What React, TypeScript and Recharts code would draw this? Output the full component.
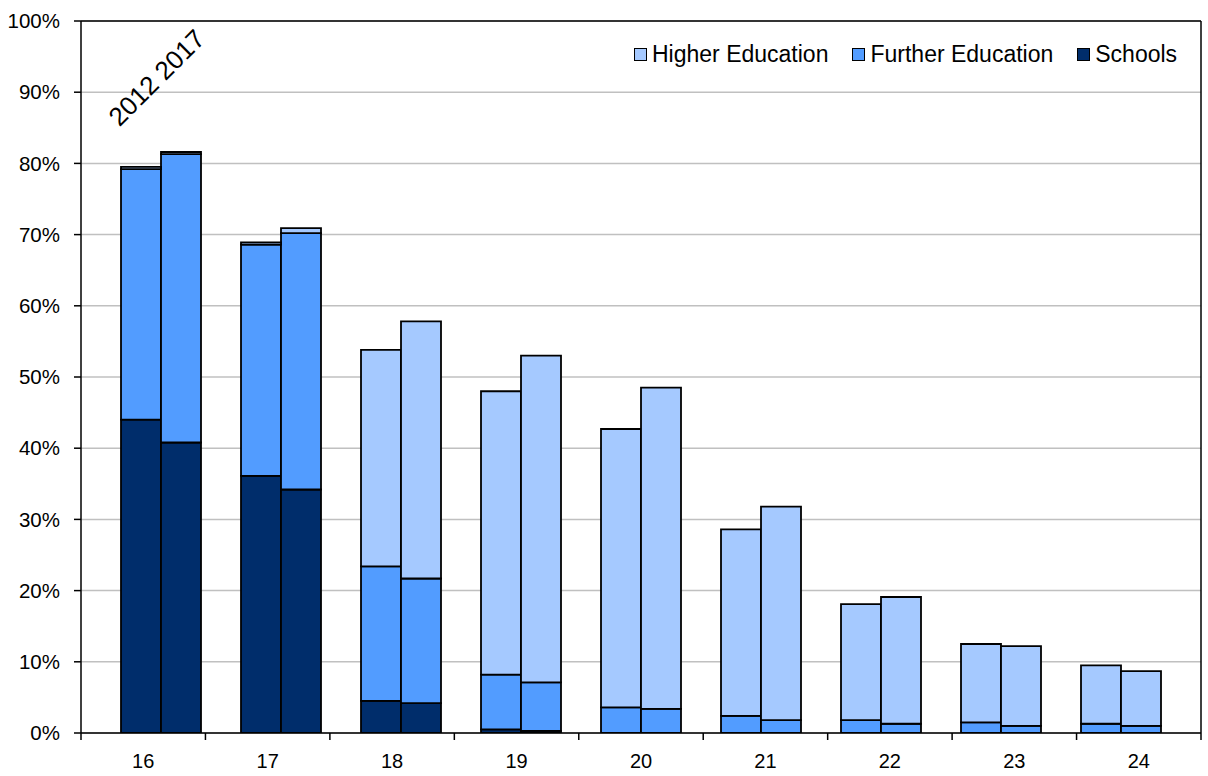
import React from 'react';
import {
  ComposedChart,
  Bar,
  XAxis,
  YAxis,
  CartesianGrid,
  ReferenceLine,
  Legend,
} from 'recharts';

// ---- data ----
const ages = ['16', '17', '18', '19', '20', '21', '22', '23', '24'];
const years = ['2012', '2017'];

const schools2012 = [44.0, 36.1, 4.5, 0.5, 0, 0, 0, 0, 0];
const schools2017 = [40.8, 34.2, 4.2, 0.3, 0, 0, 0, 0, 0];
const further2012 = [35.2, 32.5, 18.9, 7.7, 3.6, 2.4, 1.8, 1.5, 1.3];
const further2017 = [40.5, 36.0, 17.5, 6.8, 3.4, 1.8, 1.3, 1.0, 1.0];
const higher2012 = [0.3, 0.3, 30.4, 39.8, 39.1, 26.2, 16.3, 11.0, 8.2];
const higher2017 = [0.3, 0.7, 36.1, 45.9, 45.1, 30.0, 17.8, 11.2, 7.7];

const yTicks = [0, 10, 20, 30, 40, 50, 60, 70, 80, 90, 100];

const COLORS = {
  schools: '#002D6B',
  further: '#529CFF',
  higher: '#A5C9FF',
};

const legendItems = [
  { key: 'higher', name: 'Higher Education' },
  { key: 'further', name: 'Further Education' },
  { key: 'schools', name: 'Schools' },
];

// rows: a blank slot, then the 2012 and 2017 bars of each age, then a trailing blank slot
const rows: any[] = [];
ages.forEach((age, i) => {
  rows.push({ key: `gap-${age}` });
  rows.push({
    key: `${age}-${years[0]}`,
    schools: schools2012[i],
    further: further2012[i],
    higher: higher2012[i],
  });
  rows.push({
    key: `${age}-${years[1]}`,
    schools: schools2017[i],
    further: further2017[i],
    higher: higher2017[i],
  });
});
rows.push({ key: 'gap-end' });

// age axis in row-index units: each age owns 3 units; boundaries at 3k, label at 3k+1.5
const SLOTS = 3;
const ageMax = rows.length - 1;
const ageTicks: number[] = [];
ages.forEach((_, i) => {
  ageTicks.push(i * SLOTS);
  ageTicks.push(i * SLOTS + SLOTS / 2);
});
ageTicks.push(ages.length * SLOTS);

const FONT = '"Liberation Sans", Arial, sans-serif';

const AgeTick = (props: any) => {
  const { x, y, payload } = props;
  const v = payload.value as number;
  if (v % SLOTS === 0) {
    return <line x1={x} x2={x} y1={y} y2={y + 7} stroke="#000" strokeWidth={1.5} />;
  }
  return (
    <text x={x} y={y + 35} textAnchor="middle" fill="#000" fontSize={20} fontFamily={FONT}>
      {ages[Math.floor(v / SLOTS)]}
    </text>
  );
};

const renderLegend = () => (
  <div style={{ display: 'flex', alignItems: 'center', fontFamily: FONT, fontSize: 23, color: '#000' }}>
    {legendItems.map((it, idx) => (
      <div key={it.key} style={{ display: 'flex', alignItems: 'center', marginLeft: idx === 0 ? 0 : 24 }}>
        <div
          style={{
            width: 11,
            height: 11,
            background: (COLORS as any)[it.key],
            border: '1.5px solid #000',
            marginRight: 5,
          }}
        />
        <span style={{ whiteSpace: 'nowrap' }}>{it.name}</span>
      </div>
    ))}
  </div>
);

export default function App() {
  return (
    <div
      style={{
        position: 'absolute',
        left: 0,
        top: 0,
        width: 1208,
        height: 776,
        background: '#fff',
        fontFamily: FONT,
      }}
    >
      <ComposedChart
        width={1208}
        height={776}
        data={rows}
        margin={{ top: 21, right: 7, bottom: 0, left: 0 }}
        barCategoryGap={0}
        barGap={0}
      >
        <CartesianGrid xAxisId="bars" vertical={false} stroke="#C0C0C0" strokeWidth={1.5} />
        <XAxis xAxisId="bars" dataKey="key" type="category" hide />
        <XAxis
          xAxisId="age"
          type="number"
          domain={[0, ageMax]}
          ticks={ageTicks}
          interval={0}
          height={43}
          allowDataOverflow
          axisLine={{ stroke: '#000', strokeWidth: 1.5 }}
          tickLine={false}
          tickSize={0}
          tickMargin={0}
          tick={<AgeTick />}
        />
        <YAxis
          type="number"
          domain={[0, 100]}
          ticks={yTicks}
          interval={0}
          width={81}
          allowDataOverflow
          tickFormatter={(v: number) => `${v}%`}
          axisLine={{ stroke: '#000', strokeWidth: 1.5 }}
          tickLine={{ stroke: '#000', strokeWidth: 1.5 }}
          tickSize={7}
          tickMargin={14}
          tick={{ fill: '#000', fontSize: 20.5, fontFamily: FONT }}
        />
        <ReferenceLine xAxisId="age" y={100} stroke="#000" strokeWidth={1.5} />
        <ReferenceLine xAxisId="age" x={ageMax} stroke="#000" strokeWidth={1.5} />
        <Bar xAxisId="bars" dataKey="schools" name="Schools" stackId="s" fill={COLORS.schools} stroke="#000" strokeWidth={1.8} isAnimationActive={false} />
        <Bar xAxisId="bars" dataKey="further" name="Further Education" stackId="s" fill={COLORS.further} stroke="#000" strokeWidth={1.8} isAnimationActive={false} />
        <Bar xAxisId="bars" dataKey="higher" name="Higher Education" stackId="s" fill={COLORS.higher} stroke="#000" strokeWidth={1.8} isAnimationActive={false} />
        <Legend
          layout="horizontal"
          verticalAlign="middle"
          align="center"
          content={renderLegend}
          wrapperStyle={{ position: 'absolute', top: 41, left: 634, width: 574, height: 28 }}
        />
      </ComposedChart>
      <div
        style={{
          position: 'absolute',
          left: 157,
          top: 78,
          transform: 'translate(-50%, -50%) rotate(-45deg)',
          fontSize: 26,
          whiteSpace: 'nowrap',
          color: '#000',
          fontFamily: FONT,
        }}
      >
        2012 2017
      </div>
    </div>
  );
}
